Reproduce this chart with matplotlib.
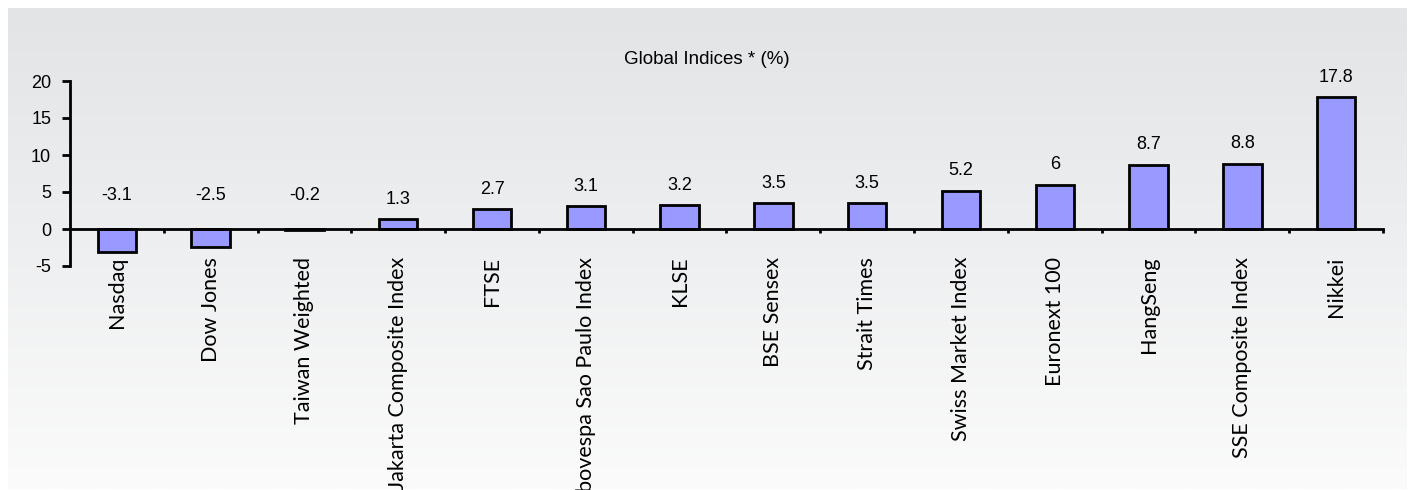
import matplotlib
matplotlib.use("Agg")
import matplotlib.pyplot as plt
import numpy as np
from matplotlib.colors import LinearSegmentedColormap

categories = ["Nasdaq", "Dow Jones", "Taiwan Weighted", "Jakarta Composite Index",
              "FTSE", "Ibovespa Sao Paulo Index", "KLSE", "BSE Sensex", "Strait Times",
              "Swiss Market Index", "Euronext 100", "HangSeng", "SSE Composite Index", "Nikkei"]
values = [-3.1, -2.5, -0.2, 1.3, 2.7, 3.1, 3.2, 3.5, 3.5, 5.2, 6, 8.7, 8.8, 17.8]
value_labels = ["-3.1", "-2.5", "-0.2", "1.3", "2.7", "3.1", "3.2", "3.5", "3.5",
                "5.2", "6", "8.7", "8.8", "17.8"]
yticks = [-5, 0, 5, 10, 15, 20]
title = "Global Indices * (%)"

W, H = 1414, 490
fig = plt.figure(figsize=(W / 100, H / 100), dpi=100)
fig.patch.set_facecolor("white")

# gradient background panel
bg = fig.add_axes([8 / W, 1 - 489 / H, (1407 - 8) / W, (489 - 8) / H], zorder=-5)
cmap = LinearSegmentedColormap.from_list("g", ["#e3e4e6", "#eeeff0", "#fbfbfb"])
grad = np.linspace(0, 1, 256).reshape(-1, 1)
bg.imshow(grad, aspect="auto", cmap=cmap, extent=[0, 1, 0, 1], origin="upper")
bg.set_axis_off()

left, right = 70 / W, 1383 / W
top, bottom = 1 - 81 / H, 1 - 266 / H
ax = fig.add_axes([left, bottom, right - left, top - bottom])
ax.patch.set_alpha(0)

x = np.arange(len(categories))
ax.bar(x, values, width=0.41, color="#9999ff", edgecolor="black", linewidth=2.0, zorder=3)

ax.set_xlim(-0.5, len(categories) - 0.5)
ax.set_ylim(-5, 20)
ax.set_yticks(yticks)
ax.set_yticklabels([str(v) for v in yticks], fontsize=13, family="Liberation Sans")

for s in ["top", "right"]:
    ax.spines[s].set_visible(False)
ax.spines["bottom"].set_position(("data", 0))
ax.spines["bottom"].set_linewidth(2.0)
ax.spines["left"].set_linewidth(2.0)
ax.spines["bottom"].set_zorder(4)

ax.tick_params(axis="y", direction="out", length=5.5, width=2.0, pad=8)
ax.set_xticks(x)
ax.set_xticklabels(categories, rotation=90, fontsize=15.5, family="Lato", va="top", ha="center")
ax.tick_params(axis="x", which="major", length=0, pad=20)
ax.set_xticks(np.arange(0.5, len(categories) - 0.5 + 0.01, 1.0), minor=True)
ax.tick_params(axis="x", which="minor", direction="out", length=3, width=2.0)

for xi, v, lab in zip(x, values, value_labels):
    if v >= 0:
        ax.annotate(lab, (xi, v), xytext=(0, 14.4), textcoords="offset points",
                    ha="center", va="center", fontsize=13, family="Liberation Sans")
    else:
        ax.annotate(lab, (xi, 0), xytext=(0, 23.8), textcoords="offset points",
                    ha="center", va="center", fontsize=13, family="Liberation Sans")

fig.text(707 / W, 1 - 60 / H, title, ha="center", va="center", fontsize=13.5,
         family="Liberation Sans")

fig.savefig("out.png", dpi=100)
